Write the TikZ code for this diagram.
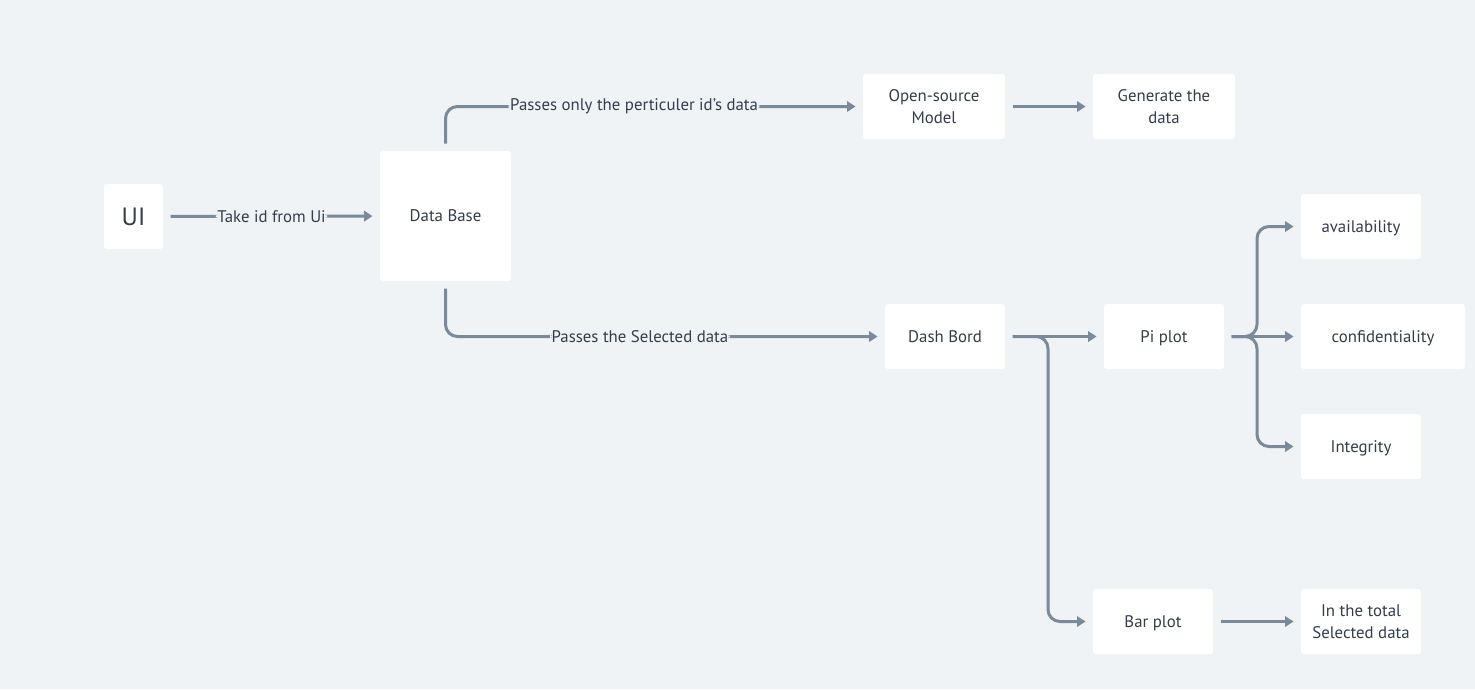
\documentclass[tikz,border=0pt]{standalone}
\usepackage{fontspec}
\setmainfont{PT Sans}
\usetikzlibrary{arrows.meta}
\definecolor{bgc}{HTML}{EFF3F6}
\definecolor{linec}{HTML}{7A8A99}
\definecolor{txtc}{HTML}{333D4B}
\begin{document}
\begin{tikzpicture}[x=1pt,y=-1pt,
  box/.style={draw=none, fill=white, rounded corners=3pt, text=txtc, align=center,
    font=\fontsize{16.8}{22}\selectfont, outer sep=7.5pt, inner sep=0pt, text depth=0pt},
  arr/.style={draw=linec, line width=3pt, rounded corners=12pt,
    -{Triangle[length=8.5pt,width=10.5pt]}},
  lbl/.style={fill=bgc, text=txtc, inner sep=1.5pt, font=\fontsize{16.8}{19}\selectfont}]
\fill[bgc] (0,0) rectangle (1475,689);
\useasboundingbox (0,0) rectangle (1475,689);

\node[box, minimum width=59pt, minimum height=65pt, font=\fontsize{25}{28}\selectfont] (ui) at (133.5,216.5) {UI};
\node[box, minimum width=131pt, minimum height=130pt] (db) at (445.5,216) {Data Base};
\node[box, minimum width=142pt, minimum height=65pt] (open) at (934,106.5) {Open-source\\Model};
\node[box, minimum width=142pt, minimum height=65pt] (gen) at (1164,106.5) {Generate the\\data};
\node[box, minimum width=120pt, minimum height=65pt] (dash) at (945,336.5) {Dash Bord};
\node[box, minimum width=120pt, minimum height=65pt] (pi) at (1164,336.5) {Pi plot};
\node[box, minimum width=120pt, minimum height=65pt] (avail) at (1361,226.5) {availability};
\node[box, minimum width=164pt, minimum height=65pt] (conf) at (1383,336.5) {confidentiality};
\node[box, minimum width=120pt, minimum height=65pt] (integ) at (1361,446.5) {Integrity};
\node[box, minimum width=120pt, minimum height=65pt] (bar) at (1153,621.5) {Bar plot};
\node[box, minimum width=120pt, minimum height=65pt] (total) at (1361,621.5) {In the total\\Selected data};

\coordinate (f1) at (1257,336.5);
\coordinate (f2) at (1048,336.5);

\draw[arr] (ui) -- node[lbl] {Take id from Ui} (db);
\draw[arr] (db.north) |- node[lbl, pos=0.73] {Passes only the perticuler id’s data} (open.west);
\draw[arr] (db.south) |- node[lbl, pos=0.725] {Passes the Selected data} (dash.west);
\draw[arr] (open) -- (gen);
\draw[arr] (dash) -- (pi);
\draw[arr] (dash.east) -- (f2) |- (bar.west);
\draw[arr] (pi.east) -- (f1) |- (avail.west);
\draw[arr] (pi) -- (conf);
\draw[arr] (pi.east) -- (f1) |- (integ.west);
\draw[arr] (bar) -- (total);
\end{tikzpicture}
\end{document}
